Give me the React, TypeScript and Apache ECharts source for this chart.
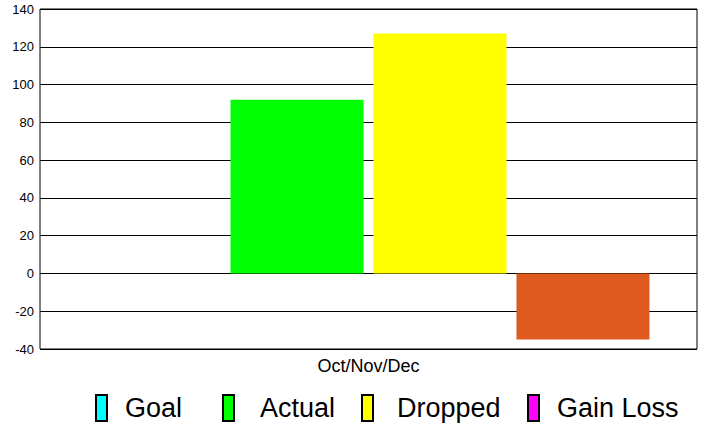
import React, { useEffect, useRef } from "react";
import * as echarts from "echarts";

const categories = ["Oct/Nov/Dec"];
const seriesNames = ["Goal", "Actual", "Dropped", "Gain Loss"];
const goalValues = [0];
const actualValues = [92];
const droppedValues = [127];
const gainLossValues = [-35];
const legendColors = ["#00FFFF", "#00FF00", "#FFFF00", "#FF00FF"];
const gainLossBarColor = "#DF5A1F";

export default function App() {
  const ref = useRef<HTMLDivElement>(null);
  useEffect(() => {
    if (!ref.current) return;
    const chart = echarts.init(ref.current, undefined, { renderer: "svg" });
    const font = "Liberation Sans, Arial, sans-serif";
    const legendLefts = [95, 222, 361, 527];
    const legendPads = [13, 21, 19, 13];
    const values = [goalValues, actualValues, droppedValues, gainLossValues];
    chart.setOption({
      animation: false,
      backgroundColor: "#ffffff",
      grid: {
        left: 40,
        right: 8,
        top: 9,
        bottom: 78,
        show: true,
        borderColor: "#000",
        borderWidth: 1,
        backgroundColor: "transparent",
      },
      legend: seriesNames.map((n, i) => ({
        data: [n],
        left: legendLefts[i],
        top: 394,
        padding: 0,
        orient: "horizontal",
        itemWidth: 11,
        itemHeight: 26,
        icon: "rect",
        itemStyle: { borderColor: "#000", borderWidth: 2 },
        textStyle: {
          fontFamily: font,
          fontSize: 27,
          lineHeight: 27,
          color: "#000",
          padding: [0, 0, 0, legendPads[i]],
        },
        selectedMode: false,
      })),
      xAxis: {
        type: "category",
        data: categories,
        axisLine: { show: false },
        axisTick: { show: false },
        axisLabel: { color: "#000", fontFamily: font, fontSize: 18, margin: 8 },
      },
      yAxis: {
        type: "value",
        min: -40,
        max: 140,
        interval: 20,
        axisLine: { show: false },
        axisTick: { show: false },
        splitLine: { lineStyle: { color: "#000", width: 1 } },
        axisLabel: { color: "#000", fontFamily: font, fontSize: 13, margin: 6 },
      },
      series: seriesNames.map((n, i) => ({
        name: n,
        type: "bar",
        barWidth: 133,
        barGap: "7.5%",
        itemStyle: { color: legendColors[i] },
        data: values[i].map((v) =>
          n === "Gain Loss" ? { value: v, itemStyle: { color: gainLossBarColor } } : v
        ),
      })),
    });
    return () => chart.dispose();
  }, []);
  return <div ref={ref} style={{ width: 705, height: 427, position: "absolute", left: 0, top: 0 }} />;
}
